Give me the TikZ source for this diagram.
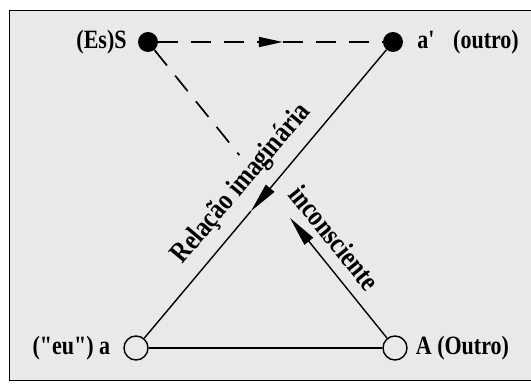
\documentclass[tikz,border=0pt]{standalone}
\usepackage{fontspec}
\setmainfont{Liberation Serif}[Ligatures=TeXOff]
\usetikzlibrary{arrows.meta,positioning,calc}
\definecolor{panelgray}{RGB}{233,233,233}
\newcommand{\tallbox}[1]{\scalebox{1}[1.2]{#1}}

\begin{document}
\begin{tikzpicture}[
    x=1pt, y=1pt,
    dot/.style={circle, fill=black, inner sep=0pt, minimum size=20pt},
    ring/.style={circle, draw, line width=1.4pt, fill=panelgray, inner sep=0pt, minimum size=24pt},
    lbl/.style={font=\fontsize{22}{26}\selectfont\bfseries, inner sep=0pt},
    slant/.style={font=\fontsize{24}{28}\selectfont\bfseries, sloped, inner sep=0pt},
    arr/.style={-{Triangle[length=30pt, width=11pt]}, line width=1.4pt},
    dsh/.style={line width=1.7pt, dash pattern=on 20pt off 13pt}
]
% Frame
\useasboundingbox (0,0) rectangle (531,385);
\fill[white] (0,0) rectangle (531,385);
\fill[panelgray] (9,4) rectangle (531,374);
\draw[line width=1pt] (531,374) -- (9,374) -- (9,4) -- (531,4);

% Points
\node[dot] (S) at (148,343) {};
\node[dot] (ap) at (393,343) {};
\node[ring] (a) at (136,37) {};
\node[ring] (A) at (395,37) {};

% Labels
\node[lbl, left=11pt of S] {\tallbox{(Es)S}};
\node[lbl, right=14pt of ap] {\tallbox{a'\hspace{0.6em} (outro)}};
\node[lbl, left=13pt of a] {\tallbox{("eu") a}};
\node[lbl, right=8pt of A] {\tallbox{A (Outro)}};

% Connections
\coordinate (Smid) at ($(S)!0.55!(ap)$);
\coordinate (apmid) at ($(ap)!0.553!(a)$);
\coordinate (Sstub) at ($(S)!0.37!(A)$);
\coordinate (inctip) at ($(A)!0.425!(S)$);
\draw[dsh, -{Triangle[length=24pt, width=10pt]}] (S) -- (Smid);
\draw[dsh] (Smid) -- (ap);
\draw[dsh] (S) -- (Sstub);
\draw[arr] (ap) -- (apmid);
\draw[line width=1.4pt] (apmid) -- (a);
\draw[line width=1.4pt] (a) -- (A);
\draw[arr] (A) -- (inctip);

% Relations
\path (a) -- (ap) node[slant, pos=0.48, above=11pt] {\tallbox{Relação imaginária}};
\path (S) -- (A) node[slant, pos=0.70, above=12pt] {\tallbox{inconsciente}};
\end{tikzpicture}
\end{document}
